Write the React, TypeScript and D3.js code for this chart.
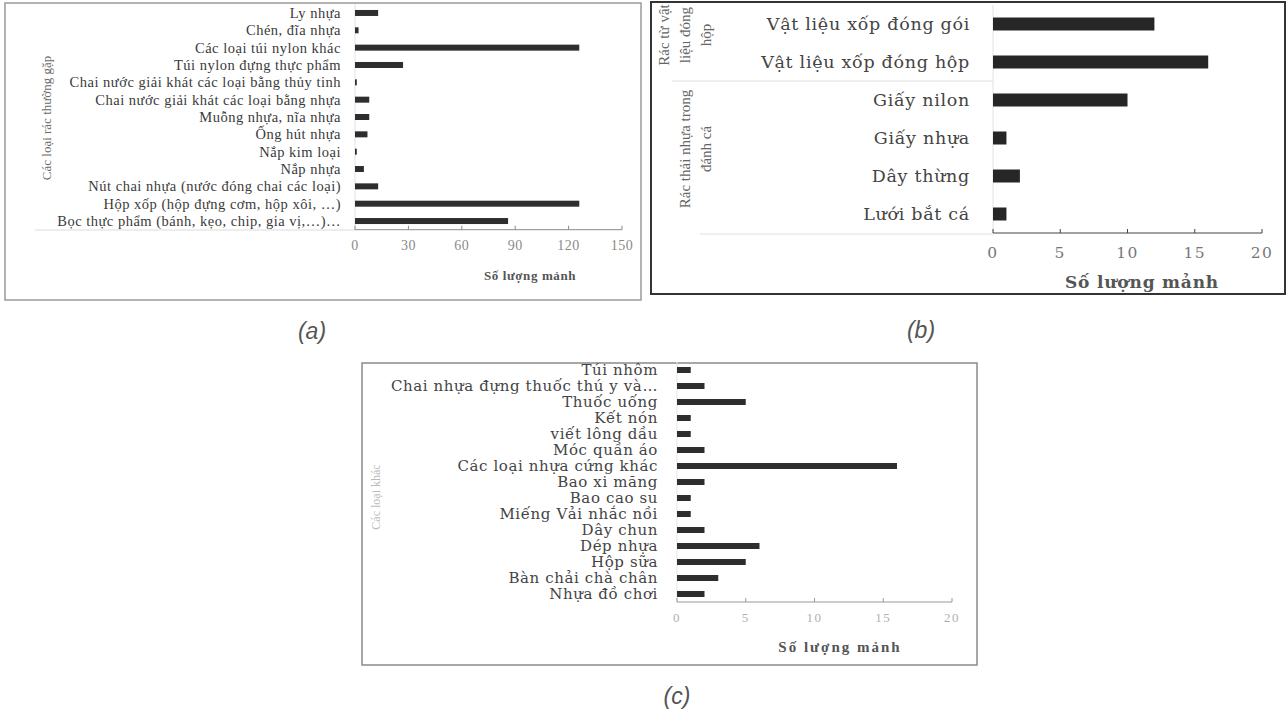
import * as d3 from "d3";
import React from "react";

// (a) common waste types
const categoriesA = [
  "Ly nhựa",
  "Chén, đĩa nhựa",
  "Các loại túi nylon khác",
  "Túi nylon đựng thực phẩm",
  "Chai nước giải khát các loại bằng thủy tinh",
  "Chai nước giải khát các loại bằng nhựa",
  "Muỗng nhựa, nĩa nhựa",
  "Ống hút nhựa",
  "Nắp kim loại",
  "Nắp nhựa",
  "Nút chai nhựa (nước đóng chai các loại)",
  "Hộp xốp (hộp đựng cơm, hộp xôi, …)",
  "Bọc thực phẩm (bánh, kẹo, chip, gia vị,…)…",
];
const valuesA = [13, 2, 126, 27, 1, 8, 8, 7, 1, 5, 13, 126, 86];
const ticksA = [0, 30, 60, 90, 120, 150];

// (b) packaging + fishing waste
const categoriesB = [
  "Vật liệu xốp đóng gói",
  "Vật liệu xốp đóng hộp",
  "Giấy nilon",
  "Giấy nhựa",
  "Dây thừng",
  "Lưới bắt cá",
];
const valuesB = [12, 16, 10, 1, 2, 1];
const groupLinesB = [
  ["Rác từ vật", "liệu đóng", "hộp"],
  ["Rác thải nhựa trong", "đánh cá"],
];
const groupSizesB = [2, 4];
const ticksB = [0, 5, 10, 15, 20];

// (c) other types
const categoriesC = [
  "Túi nhôm",
  "Chai nhựa đựng thuốc thú y và…",
  "Thuốc uống",
  "Kết nón",
  "viết lông dầu",
  "Móc quần áo",
  "Các loại nhựa cứng khác",
  "Bao xi măng",
  "Bao cao su",
  "Miếng Vải nhắc nồi",
  "Dây chun",
  "Dép nhựa",
  "Hộp sữa",
  "Bàn chải chà chân",
  "Nhựa đồ chơi",
];
const valuesC = [1, 2, 5, 1, 1, 2, 16, 2, 1, 1, 2, 6, 5, 3, 2];
const ticksC = [0, 5, 10, 15, 20];

const serif = "'Liberation Serif', 'Times New Roman', serif";
const wideSerif = "'DejaVu Serif', serif";

type PanelProps = {
  cats: string[];
  vals: number[];
  ticks: number[];
  xRange: [number, number];
  yRange: [number, number];
  barH: number;
  labelX: number;
  labelFont: string;
  labelSize: number;
  labelSpacing: number;
  labelColor: string;
  tickY: number;
  tickSize: number;
  tickSpacing: number;
  tickColor: string;
  tickFont: string;
  axisColor: string;
  barColor: string;
};

const BarPanel: React.FC<PanelProps> = (p) => {
  const x = d3
    .scaleLinear()
    .domain([0, p.ticks[p.ticks.length - 1]])
    .range(p.xRange);
  const y = d3.scaleBand().domain(p.cats).range(p.yRange);
  const bw = y.bandwidth();
  const axisY = p.yRange[1];

  return (
    <g>
      {/* faint category axis */}
      <line x1={x(0)} x2={x(0)} y1={p.yRange[0]} y2={axisY} stroke="#e2e2e2" />
      {p.cats.map((c, i) => (
        <rect
          key={c}
          x={x(0)}
          y={(y(c) || 0) + bw / 2 - p.barH / 2}
          width={x(p.vals[i]) - x(0)}
          height={p.barH}
          fill={p.barColor}
        />
      ))}
      {p.cats.map((c) => (
        <text
          key={c}
          x={p.labelX}
          y={(y(c) || 0) + bw / 2}
          textAnchor="end"
          dominantBaseline="central"
          fontFamily={p.labelFont}
          fontSize={p.labelSize}
          letterSpacing={p.labelSpacing}
          fill={p.labelColor}
        >
          {c}
        </text>
      ))}
      <line x1={x(0)} x2={p.xRange[1]} y1={axisY} y2={axisY} stroke={p.axisColor} />
      {p.ticks.map((t) => (
        <g key={t}>
          <line x1={x(t)} x2={x(t)} y1={axisY} y2={axisY - 4} stroke={p.axisColor} />
          <text
            x={x(t)}
            y={p.tickY}
            textAnchor="middle"
            dominantBaseline="central"
            fontFamily={p.tickFont}
            fontSize={p.tickSize}
            letterSpacing={p.tickSpacing}
            fill={p.tickColor}
          >
            {t}
          </text>
        </g>
      ))}
    </g>
  );
};

const App: React.FC = () => {
  // group band positions for (b)
  const yB = d3.scaleBand().domain(categoriesB).range([5, 233]);
  let start = 0;
  const groups = groupSizesB.map((n, gi) => {
    const top = yB(categoriesB[start]) || 0;
    const bottom = (yB(categoriesB[start + n - 1]) || 0) + yB.bandwidth();
    start += n;
    return { top, bottom, lines: groupLinesB[gi] };
  });

  const caption = {
    fontFamily: "'Liberation Sans', Arial, sans-serif",
    fontStyle: "italic" as const,
    fontSize: 23,
    fill: "#555",
  };

  return (
    <div style={{ position: "absolute", left: 0, top: 0 }}>
      <svg width={1288} height={717} style={{ display: "block", background: "#fff" }}>
        {/* ---------- (a) ---------- */}
        <rect x={5} y={3} width={636} height={297} fill="none" stroke="#9a9a9a" strokeWidth={1.5} />
        <line x1={35} x2={355} y1={230} y2={230} stroke="#dcdcdc" />
        <BarPanel
          cats={categoriesA}
          vals={valuesA}
          ticks={ticksA}
          xRange={[355, 622]}
          yRange={[4.3, 229.7]}
          barH={6}
          labelX={341}
          labelFont={serif}
          labelSize={14.5}
          labelSpacing={0.5}
          labelColor="#3a3a3a"
          tickY={245}
          tickSize={14}
          tickSpacing={0.5}
          tickColor="#8a8a8a"
          tickFont={serif}
          axisColor="#8a8a8a"
          barColor="#2e2e2e"
        />
        <text
          transform="translate(46,118) rotate(-90)"
          textAnchor="middle"
          dominantBaseline="central"
          fontFamily={serif}
          fontSize={13}
          fill="#6a6a6a"
        >
          Các loại rác thường gặp
        </text>
        <text
          x={530}
          y={275}
          textAnchor="middle"
          dominantBaseline="central"
          fontFamily={serif}
          fontWeight="bold"
          fontSize={13}
          letterSpacing={0.6}
          fill="#555"
        >
          Số lượng mảnh
        </text>
        <text x={312} y={339} textAnchor="middle" {...caption}>
          (a)
        </text>

        {/* ---------- (b) ---------- */}
        <rect x={651} y={2} width={634} height={292} fill="none" stroke="#333" strokeWidth={2} />
        {groups.map((g, gi) => (
          <g key={gi}>
            {gi > 0 && (
              <line x1={672} x2={993} y1={g.top} y2={g.top} stroke="#e0e0e0" />
            )}
            {g.lines.map((ln, li) => (
              <text
                key={li}
                transform={`translate(${706 - (g.lines.length - 1 - li) * 21},${
                  (g.top + g.bottom) / 2 - 8
                }) rotate(-90)`}
                textAnchor="middle"
                dominantBaseline="central"
                fontFamily={serif}
                fontSize={15}
                fill="#666"
              >
                {ln}
              </text>
            ))}
          </g>
        ))}
        <line x1={700} x2={993} y1={234} y2={234} stroke="#e0e0e0" />
        <BarPanel
          cats={categoriesB}
          vals={valuesB}
          ticks={ticksB}
          xRange={[993, 1262]}
          yRange={[5, 233]}
          barH={13}
          labelX={970}
          labelFont={wideSerif}
          labelSize={17.5}
          labelSpacing={0.7}
          labelColor="#444"
          tickY={253}
          tickSize={15.5}
          tickSpacing={1.5}
          tickColor="#777"
          tickFont={wideSerif}
          axisColor="#444"
          barColor="#262626"
        />
        <text
          x={1142}
          y={282}
          textAnchor="middle"
          dominantBaseline="central"
          fontFamily={wideSerif}
          fontWeight="bold"
          fontSize={17}
          letterSpacing={0.8}
          fill="#555"
        >
          Số lượng mảnh
        </text>
        <text x={921} y={338} textAnchor="middle" {...caption}>
          (b)
        </text>

        {/* ---------- (c) ---------- */}
        <rect x={362} y={363} width={615} height={302} fill="none" stroke="#8a8a8a" strokeWidth={1.5} />
        <BarPanel
          cats={categoriesC}
          vals={valuesC}
          ticks={ticksC}
          xRange={[677, 952]}
          yRange={[362, 602]}
          barH={6}
          labelX={658}
          labelFont={wideSerif}
          labelSize={15}
          labelSpacing={0.6}
          labelColor="#444"
          tickY={617}
          tickSize={13}
          tickSpacing={1.5}
          tickColor="#b0b0b0"
          tickFont={serif}
          axisColor="#999"
          barColor="#2e2e2e"
        />
        <text
          transform="translate(376,497) rotate(-90)"
          textAnchor="middle"
          dominantBaseline="central"
          fontFamily={serif}
          fontSize={12}
          fill="#bbb"
        >
          Các loại khác
        </text>
        <text
          x={840}
          y={647}
          textAnchor="middle"
          dominantBaseline="central"
          fontFamily={serif}
          fontWeight="bold"
          fontSize={15}
          letterSpacing={2}
          fill="#555"
        >
          Số lượng mảnh
        </text>
        <text x={677} y={704} textAnchor="middle" {...caption}>
          (c)
        </text>
      </svg>
    </div>
  );
};

export default App;
